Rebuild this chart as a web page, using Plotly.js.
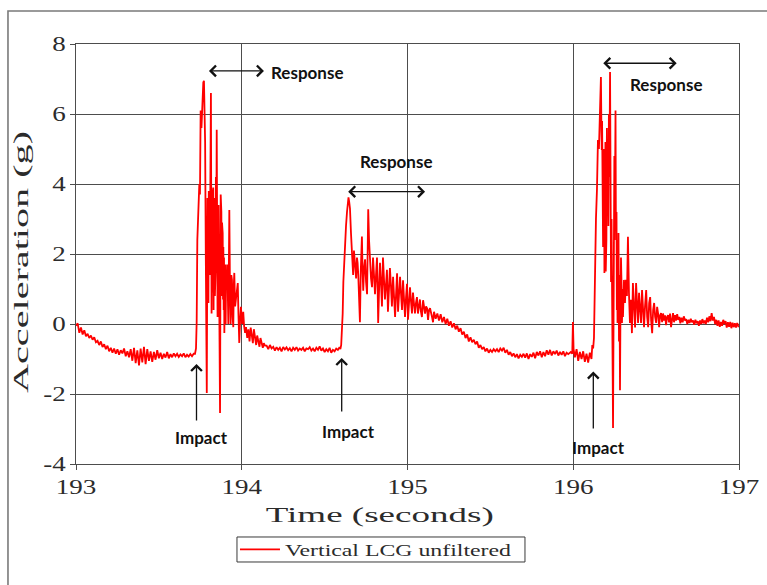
<!DOCTYPE html>
<html>
<head>
<meta charset="utf-8">
<script src="https://cdn.plot.ly/plotly-3.0.1.min.js"></script>
<style>
  html, body { margin: 0; padding: 0; background: #fff; }
  #chart { width: 767px; height: 585px; }
</style>
</head>
<body>
<div id="chart"></div>
<script>
// Vertical acceleration at the LCG, unfiltered record (time in s, acceleration in g)

// quiet run before the first impact
const timeA = [193.00,193.01,193.02,193.03,193.04,193.05,193.06,193.07,193.08,193.09,
  193.10,193.11,193.12,193.13,193.14,193.15,193.16,193.17,193.18,193.19,
  193.20,193.21,193.22,193.23,193.24,193.25,193.26,193.27,193.28,193.29,
  193.30,193.31,193.32,193.33,193.34,193.35,193.36,193.37,193.38,193.39,
  193.40,193.41,193.42,193.43,193.44,193.45,193.46,193.47,193.48,193.49,
  193.50,193.51,193.52,193.53,193.54,193.55,193.56,193.57,193.58,193.59,
  193.60,193.61,193.62,193.63,193.64,193.65,193.66,193.67,193.68,193.69,
  193.70,193.71];
const accelA = [-0.05,0.02,-0.25,-0.10,-0.30,-0.18,-0.35,-0.28,-0.40,-0.33,
  -0.45,-0.38,-0.52,-0.48,-0.60,-0.50,-0.66,-0.58,-0.72,-0.62,
  -0.78,-0.68,-0.82,-0.70,-0.85,-0.72,-0.88,-0.75,-0.84,-0.70,
  -0.92,-0.78,-0.95,-0.72,-1.05,-0.68,-1.12,-0.75,-1.18,-0.70,
  -1.10,-0.65,-1.15,-0.72,-1.05,-0.78,-1.08,-0.80,-1.02,-0.75,
  -0.98,-0.82,-1.00,-0.85,-0.96,-0.80,-0.98,-0.86,-0.95,-0.84,
  -0.92,-0.85,-0.94,-0.87,-0.92,-0.84,-0.95,-0.88,-0.93,-0.86,
  -0.92,-0.85];

// first impact and its response
const timeB = [193.718,193.724,193.728,193.732,193.738,193.744,193.748,193.752,193.757,193.762,
  193.768,193.772,193.776,193.779,193.783,193.786,193.789,193.791,193.793,193.795,
  193.797,193.799,193.801,193.803,193.805,193.807,193.809,193.811,193.814,193.816,
  193.818,193.820,193.822,193.824,193.826,193.828,193.830,193.832,193.834,193.836,
  193.838,193.840,193.842,193.844,193.846,193.849,193.852,193.854,193.856,193.858,
  193.860,193.862,193.864,193.866,193.869,193.871,193.873,193.875,193.877,193.879,
  193.881,193.883,193.885,193.887,193.889,193.891,193.893,193.895,193.897,193.899,
  193.901,193.903,193.905,193.909,193.913,193.919,193.922,193.925,193.929,193.933,
  193.937,193.941,193.945,193.949,193.952,193.955,193.960,193.965,193.970,193.976,
  193.980,193.985,193.990,193.995,194.002,194.009,194.014,194.020,194.026,194.033,
  194.040,194.047,194.054,194.060,194.067,194.073,194.080,194.087,194.093,194.100,
  194.107,194.113,194.120,194.127,194.133,194.140];
const accelB = [-0.85,-0.70,0.05,2.40,3.20,4.00,3.70,6.10,5.60,6.25,
  6.90,6.95,6.00,5.20,2.00,0.50,-1.97,0.80,3.60,1.20,
  2.90,0.60,3.80,1.00,3.50,1.40,4.00,2.00,6.60,3.20,
  0.30,3.40,0.90,3.70,1.20,3.90,0.40,2.80,1.10,3.60,
  0.80,3.30,1.50,4.20,2.00,5.55,2.60,0.20,3.00,1.90,
  3.40,0.10,2.20,-0.50,-2.54,0.60,3.70,1.30,3.20,0.80,
  2.90,1.06,2.60,0.70,2.20,0.40,1.90,-0.26,1.60,0.50,
  1.70,0.00,1.20,0.97,1.70,0.00,1.50,3.26,1.00,0.00,
  1.40,1.26,0.20,-0.09,1.10,1.46,0.50,0.69,1.00,1.17,
  0.30,-0.54,0.10,0.49,0.00,0.35,-0.05,-0.25,-0.09,-0.40,
  -0.15,-0.50,-0.10,-0.40,-0.55,-0.15,-0.46,-0.60,-0.33,-0.50,
  -0.65,-0.40,-0.54,-0.68,-0.55,-0.62];

// settled run between the first and second impacts
const timeC = [194.15,194.16,194.17,194.18,194.19,194.20,194.21,194.22,194.23,194.24,
  194.25,194.26,194.27,194.28,194.29,194.30,194.31,194.32,194.33,194.34,
  194.35,194.36,194.37,194.38,194.39,194.40,194.41,194.42,194.43,194.44,
  194.45,194.46,194.47,194.48,194.49,194.50,194.51,194.52,194.53,194.54,
  194.55,194.56,194.57,194.58,194.59];
const accelC = [-0.62,-0.72,-0.60,-0.70,-0.65,-0.76,-0.66,-0.74,-0.68,-0.78,
  -0.66,-0.73,-0.67,-0.75,-0.69,-0.78,-0.68,-0.74,-0.66,-0.76,
  -0.70,-0.74,-0.68,-0.78,-0.70,-0.72,-0.66,-0.76,-0.70,-0.78,
  -0.68,-0.74,-0.64,-0.76,-0.70,-0.80,-0.72,-0.78,-0.68,-0.82,
  -0.74,-0.78,-0.70,-0.74,-0.66];

// second impact and its response
const timeD = [194.595,194.600,194.605,194.609,194.613,194.618,194.623,194.629,194.635,194.640,
  194.644,194.648,194.653,194.659,194.665,194.668,194.672,194.677,194.681,194.686,
  194.690,194.695,194.699,194.703,194.708,194.713,194.718,194.725,194.729,194.733,
  194.738,194.744,194.750,194.756,194.760,194.763,194.768,194.774,194.780,194.786,
  194.792,194.798,194.804,194.810,194.816,194.820,194.823,194.828,194.834,194.840,
  194.846,194.852,194.858,194.864,194.870,194.876,194.882,194.888,194.894,194.900,
  194.906,194.913,194.919,194.925,194.931,194.937,194.943,194.949,194.955,194.961,
  194.967,194.973,194.979,194.985,194.991,194.997,195.003,195.009,195.015,195.021,
  195.027,195.033,195.039,195.045,195.051,195.057,195.063,195.069,195.075,195.081,
  195.087,195.094,195.100,195.106,195.112,195.118,195.124,195.130,195.136,195.142,
  195.148,195.154,195.160];
const accelD = [-0.72,-0.60,-0.25,0.30,1.20,1.80,2.30,2.80,3.20,3.55,
  3.62,3.50,3.30,2.60,2.00,1.55,1.40,2.10,1.90,1.60,
  1.30,1.90,1.75,1.40,0.60,0.05,1.50,2.50,1.50,0.95,
  1.60,1.85,1.20,0.85,2.20,3.28,2.40,1.60,1.30,1.05,
  1.90,1.40,0.85,1.40,1.90,1.00,0.03,0.90,1.75,1.20,
  0.50,1.90,1.40,0.70,1.10,1.55,0.35,0.90,1.60,1.10,
  0.50,1.35,0.70,0.20,0.85,1.45,0.35,0.80,1.35,0.85,
  0.40,1.25,0.70,0.20,0.75,1.15,0.12,0.60,1.05,0.65,
  0.30,0.90,0.55,0.30,0.60,0.77,0.30,0.55,0.70,0.35,
  0.20,0.68,0.45,0.30,0.50,0.45,0.12,0.40,0.45,0.25,
  0.20,0.05,0.35];

// slow decay, quiet run and the short spike near 196 s
const timeE = [195.17,195.18,195.19,195.20,195.21,195.22,195.23,195.24,195.25,195.26,
  195.27,195.28,195.29,195.30,195.31,195.32,195.33,195.34,195.35,195.36,
  195.37,195.38,195.39,195.40,195.41,195.42,195.43,195.44,195.45,195.46,
  195.47,195.48,195.49,195.50,195.51,195.52,195.53,195.54,195.55,195.56,
  195.57,195.58,195.59,195.60,195.61,195.62,195.63,195.64,195.65,195.66,
  195.67,195.68,195.69,195.70,195.71,195.72,195.73,195.74,195.75,195.76,
  195.77,195.78,195.79,195.80,195.81,195.82,195.83,195.84,195.85,195.86,
  195.87,195.88,195.89,195.90,195.91,195.92,195.93,195.94,195.95,195.96,
  195.97,195.985,195.994,195.998,196.002,196.01,196.02,196.03,196.04,196.05,
  196.06,196.07,196.08,196.09,196.10,196.11];
const accelE = [0.15,0.30,0.10,0.28,0.05,0.20,0.00,0.15,-0.05,0.08,
  -0.10,0.02,-0.15,-0.05,-0.22,-0.12,-0.30,-0.22,-0.40,-0.30,
  -0.50,-0.38,-0.52,-0.45,-0.58,-0.50,-0.68,-0.60,-0.72,-0.66,
  -0.78,-0.70,-0.82,-0.74,-0.80,-0.72,-0.78,-0.72,-0.80,-0.70,
  -0.76,-0.68,-0.82,-0.74,-0.88,-0.80,-0.92,-0.84,-0.95,-0.86,
  -0.98,-0.88,-0.94,-0.85,-0.96,-0.84,-1.00,-0.86,-0.94,-0.82,
  -0.98,-0.80,-0.90,-0.78,-0.95,-0.80,-0.92,-0.75,-0.88,-0.74,
  -0.90,-0.78,-0.86,-0.76,-0.90,-0.80,-0.88,-0.78,-0.92,-0.82,
  -0.86,-0.80,-0.85,0.06,-0.72,-0.95,-0.72,-1.05,-0.80,-1.00,
  -0.78,-1.08,-0.85,-1.10,-0.82,-1.00];

// third impact and its response
const timeF = [196.115,196.120,196.125,196.131,196.137,196.143,196.149,196.155,196.161,196.167,
  196.170,196.172,196.174,196.176,196.178,196.180,196.182,196.184,196.186,196.188,
  196.190,196.192,196.194,196.196,196.198,196.200,196.203,196.206,196.209,196.212,
  196.215,196.218,196.222,196.225,196.228,196.231,196.233,196.236,196.238,196.240,
  196.242,196.244,196.246,196.248,196.250,196.252,196.255,196.257,196.259,196.261,
  196.263,196.265,196.267,196.269,196.271,196.273,196.276,196.279,196.282,196.285,
  196.288,196.291,196.294,196.297,196.300,196.306,196.312,196.318,196.324,196.330,
  196.336,196.342,196.348,196.354,196.360,196.367,196.373,196.379,196.385,196.391,
  196.397,196.403,196.409,196.415,196.421,196.427,196.433,196.440,196.446,196.452,
  196.458,196.464,196.470,196.476,196.482,196.488,196.494,196.500,196.506,196.512,
  196.518,196.524,196.530,196.536,196.542,196.548,196.554,196.560,196.566,196.572];
const accelF = [-0.60,-0.70,-0.40,1.83,3.00,3.83,5.26,5.00,6.00,7.06,
  5.50,4.97,5.80,3.63,5.00,2.20,4.80,1.80,5.00,1.46,
  4.20,2.00,5.20,1.50,4.50,2.40,5.60,3.20,5.00,2.80,
  6.00,4.20,7.20,4.00,1.20,3.00,-0.46,1.20,-1.50,-2.97,
  0.50,3.40,1.80,4.80,2.40,5.70,6.10,3.00,1.46,3.20,
  0.40,2.40,0.03,1.50,0.20,2.60,-0.50,1.40,-1.89,0.50,
  1.90,1.20,0.03,1.00,0.20,1.26,0.60,1.26,0.80,2.49,
  0.90,0.03,0.69,-0.26,1.17,0.40,-0.10,1.17,0.30,0.03,
  0.89,0.20,0.03,0.97,0.30,-0.09,0.50,0.97,0.20,-0.09,
  0.60,0.77,0.10,-0.26,0.40,0.60,0.20,0.03,0.49,0.30,
  -0.09,0.25,0.31,0.05,0.30,0.10,0.25,-0.03,0.20,0.25];

// tail after the third response
const timeG = [196.578,196.584,196.590,196.596,196.602,196.608,196.614,196.620,196.627,196.633,
  196.640,196.646,196.653,196.660,196.667,196.674,196.681,196.688,196.695,196.702,
  196.709,196.716,196.723,196.730,196.737,196.744,196.751,196.758,196.765,196.772,
  196.779,196.786,196.793,196.800,196.807,196.814,196.821,196.828,196.835,196.842,
  196.849,196.856,196.863,196.870,196.877,196.884,196.891,196.898,196.905,196.912,
  196.919,196.926,196.933,196.940,196.947,196.954,196.961,196.968,196.975,196.982,
  196.989,196.996,197.000];
const accelG = [0.05,0.30,-0.09,0.22,0.31,0.05,0.25,0.10,0.28,0.12,
  0.20,0.02,0.18,0.05,0.22,0.10,0.14,0.00,0.12,0.03,
  0.15,0.05,0.10,-0.02,0.12,0.02,0.08,-0.05,0.10,0.00,
  0.14,0.02,0.10,0.00,0.18,0.05,0.22,0.08,0.31,0.10,
  0.20,0.00,0.12,-0.05,0.10,-0.08,0.06,-0.05,0.12,0.00,
  0.08,-0.10,0.05,-0.08,0.06,-0.12,0.04,-0.09,0.02,-0.10,
  0.03,-0.06,-0.04];

const seriesName = 'Vertical LCG unfiltered';
const xTicks = [193, 194, 195, 196, 197];
const xTickText = ['193', '194', '195', '196', '197'];
const yTicks = [-4, -2, 0, 2, 4, 6, 8];
const yTickText = ['-4', '-2', '0', '2', '4', '6', '8'];

const time = [].concat(timeA, timeB, timeC, timeD, timeE, timeF, timeG);
const accel = [].concat(accelA, accelB, accelC, accelD, accelE, accelF, accelG);

const SERIF = 'Liberation Serif, Times New Roman, serif';
const SANS = 'Lato, Carlito, Calibri, sans-serif';
const INK = '#111111';
const TEXT = '#2b2b2b';
const GRID = '#4d4d4d';

const trace = {
  type: 'scatter', mode: 'lines', x: time, y: accel, name: seriesName,
  line: { color: '#ff0000', width: 1.8 }, showlegend: true
};

function hArrow(x0, x1, y) {
  return { x: x1, y: y, ax: x0, ay: y, xref: 'x', yref: 'y', axref: 'x', ayref: 'y',
    text: '', showarrow: true, arrowside: 'end+start', arrowhead: 4, startarrowhead: 4,
    arrowsize: 1.6, startarrowsize: 1.6, arrowwidth: 1.3, arrowcolor: INK };
}
function vArrow(x, yTip, yTail) {
  return { x: x, y: yTip, ax: x, ay: yTail, xref: 'x', yref: 'y', axref: 'x', ayref: 'y',
    text: '', showarrow: true, arrowhead: 4, arrowsize: 1.6, arrowwidth: 1.3, arrowcolor: INK };
}
function label(txt, x, y) {
  return { x: x, y: y, xref: 'x', yref: 'y', text: txt, showarrow: false,
    font: { family: SANS, size: 17, color: INK, weight: 'bold' }, xanchor: 'center', yanchor: 'middle' };
}

const layout = {
  width: 767, height: 585,
  margin: { l: 76, r: 28, t: 44, b: 121 },
  paper_bgcolor: '#ffffff', plot_bgcolor: '#ffffff',
  showlegend: true,
  xaxis: {
    range: [193, 197], tickvals: xTicks, ticktext: xTickText,
    showgrid: true, gridcolor: GRID, gridwidth: 1,
    showline: true, linecolor: GRID, linewidth: 1.3, mirror: true,
    ticks: 'outside', ticklen: 5, tickcolor: GRID, zeroline: false,
    tickfont: { family: SERIF, size: 20, color: TEXT }
  },
  yaxis: {
    range: [-4, 8], tickvals: yTicks, ticktext: yTickText,
    showgrid: true, gridcolor: GRID, gridwidth: 1,
    showline: true, linecolor: GRID, linewidth: 1.3, mirror: true,
    ticks: 'outside', ticklen: 5, tickcolor: GRID, zeroline: false,
    tickfont: { family: SERIF, size: 20, color: TEXT },
    title: { text: 'Acceleration (g)', font: { family: SERIF, size: 22, color: TEXT }, standoff: 14 }
  },
  legend: {
    orientation: 'h', x: 0.2398, xanchor: 'left', y: -0.2036, yanchor: 'middle',
    borderwidth: 0, bgcolor: 'rgba(0,0,0,0)',
    entrywidth: 250, entrywidthmode: 'pixels',
    font: { family: SERIF, size: 16, color: TEXT }
  },
  shapes: [
    // outer chart frame
    { type: 'rect', xref: 'paper', yref: 'paper', x0: -0.1026, x1: 1.06, y0: -0.34, y1: 1.0786,
      line: { color: '#7a7a7a', width: 1.6 }, fillcolor: 'rgba(0,0,0,0)', layer: 'below' },
    // legend frame
    { type: 'rect', xref: 'paper', yref: 'paper', x0: 0.2428, x1: 0.6772, y0: -0.2333, y1: -0.1738,
      line: { color: '#3a3a3a', width: 1 }, fillcolor: 'rgba(0,0,0,0)', layer: 'below' }
  ],
  annotations: [
    { xref: 'paper', yref: 'paper', x: 0.4585, y: -0.1214, text: 'Time (seconds)', showarrow: false,
      font: { family: SERIF, size: 22, color: TEXT }, xanchor: 'center', yanchor: 'middle' },
    hArrow(193.793, 194.134, 7.23), label('Response', 194.394, 7.2),
    hArrow(194.633, 195.106, 3.78), label('Response', 194.928, 4.63),
    hArrow(196.172, 196.624, 7.45), label('Response', 196.557, 6.83),
    vArrow(193.727, -1.14, -2.8), label('Impact', 193.76, -3.23),
    vArrow(194.603, -0.97, -2.54), label('Impact', 194.641, -3.06),
    vArrow(196.121, -1.36, -3.03), label('Impact', 196.155, -3.54)
  ]
};

// widen the serif lettering to the broad face used on the chart
function widen(el, length) {
  if (!el) return;
  el.setAttribute('textLength', length);
  el.setAttribute('lengthAdjust', 'spacingAndGlyphs');
}
function widenBy(el, factor) {
  if (!el || !el.getComputedTextLength) return;
  widen(el, el.getComputedTextLength() * factor);
}

Plotly.newPlot('chart', [trace], layout, { staticPlot: true, displayModeBar: false }).then(function (gd) {
  const yt = gd.querySelector('.ytitle');
  if (yt) {
    // sit the vertical title a little lower, as on the chart
    const tx = parseFloat(yt.getAttribute('x'));
    const ty = parseFloat(yt.getAttribute('y')) + 8;
    yt.setAttribute('y', ty);
    yt.setAttribute('transform', 'rotate(-90,' + tx + ',' + ty + ')');
    widen(yt, 262);
  }
  gd.querySelectorAll('.annotation-text').forEach(function (t) {
    if (t.textContent === 'Time (seconds)') widen(t, 228);
  });
  // longer legend swatch, text moved along with it
  gd.querySelectorAll('.legend [clip-path]').forEach(function (e) { e.removeAttribute('clip-path'); });
  const swatch = gd.querySelector('.legendlines path');
  if (swatch) swatch.setAttribute('d', 'M5,0h40');
  const lt = gd.querySelector('.legendtext');
  if (lt) { lt.setAttribute('x', 50); widen(lt, 226); }
  gd.querySelectorAll('.xtick text, .ytick text').forEach(function (t) { widenBy(t, 1.35); });
});
</script>
</body>
</html>
